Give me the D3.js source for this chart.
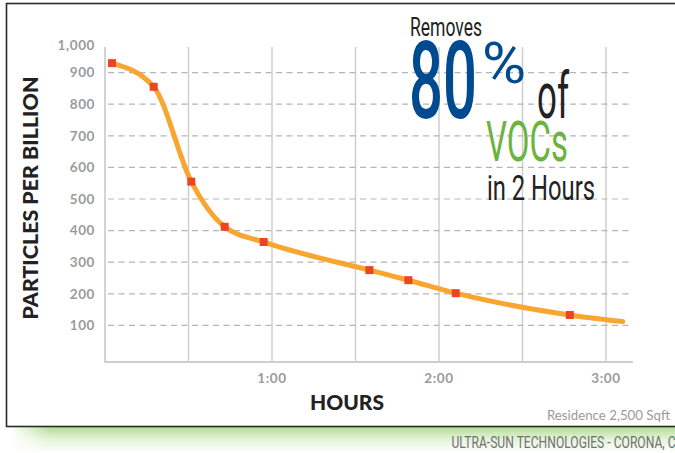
<!DOCTYPE html>
<html>
<head>
<meta charset="utf-8">
<script src="https://cdn.jsdelivr.net/npm/d3@7"></script>
<style>
  body { margin: 0; background: #fff; }
  svg text { font-family: Lato, "Open Sans", sans-serif; }
</style>
</head>
<body>
<div id="chart"></div>
<script>
// VOC removal curve - residence 2,500 sqft

// measured samples (minutes, parts per billion)
var sampleMinutes = [2.5, 17.5, 31, 43, 57, 95, 109, 126, 167];
var samplePpb = [930, 855, 555, 412, 364, 275, 243, 202, 133];
// where the trend line stops (no marker)
var trendEndMinute = 186;
var trendEndPpb = 112;

var yTicks = [100, 200, 300, 400, 500, 600, 700, 800, 900, 1000];
var xGrid = [30, 60, 90, 120, 150, 180];
var xLabels = [60, 120, 180];
var xLabelText = ["1:00", "2:00", "3:00"];

var width = 675, height = 453;

var svg = d3.select("#chart").append("svg")
    .attr("width", width)
    .attr("height", height);

var defs = svg.append("defs");
var grad = defs.append("linearGradient")
    .attr("id", "shadow").attr("x1", 0).attr("y1", 0).attr("x2", 0).attr("y2", 1);
grad.append("stop").attr("offset", "0%").attr("stop-color", "#b3dc93");
grad.append("stop").attr("offset", "45%").attr("stop-color", "#e3f2d8");
grad.append("stop").attr("offset", "100%").attr("stop-color", "#ffffff");
var fadeL = defs.append("linearGradient")
    .attr("id", "fadeL").attr("x1", 0).attr("y1", 0).attr("x2", 1).attr("y2", 0);
fadeL.append("stop").attr("offset", "0%").attr("stop-color", "#fff").attr("stop-opacity", 1);
fadeL.append("stop").attr("offset", "100%").attr("stop-color", "#fff").attr("stop-opacity", 0);

// green shadow under the frame + frame
svg.append("rect")
    .attr("x", 10).attr("y", 427).attr("width", 670).attr("height", 26)
    .attr("fill", "url(#shadow)");
svg.append("rect")
    .attr("x", 10).attr("y", 427).attr("width", 40).attr("height", 26)
    .attr("fill", "url(#fadeL)");
svg.append("rect")
    .attr("x", 6.5).attr("y", 3.5).attr("width", 700).attr("height", 423)
    .attr("fill", "#fff")
    .attr("stroke", "#2a2a2a")
    .attr("stroke-width", 1.6);

/*** SCALES */
var x = d3.scaleLinear().domain([0, 180]).range([105, 606]);
var y = d3.scaleLinear().domain([0, 1000]).range([357, 41]);

var plotTop = 47, plotBottom = 362, plotRight = 633;

// vertical grid
svg.selectAll(".vgrid")
    .data(xGrid)
    .enter().append("line")
    .attr("class", "vgrid")
    .attr("x1", function(d) { return x(d); })
    .attr("x2", function(d) { return x(d); })
    .attr("y1", plotTop)
    .attr("y2", plotBottom)
    .attr("stroke", "#cfcfcf")
    .attr("stroke-width", 1.5);

// horizontal dashed grid (no line at 1,000)
svg.selectAll(".hgrid")
    .data(yTicks.filter(function(d) { return d < 1000; }))
    .enter().append("line")
    .attr("class", "hgrid")
    .attr("x1", 108)
    .attr("x2", plotRight)
    .attr("y1", function(d) { return y(d); })
    .attr("y2", function(d) { return y(d); })
    .attr("stroke", "#b5b5b5")
    .attr("stroke-width", 1.2)
    .attr("stroke-dasharray", "6,4.5");

// axis lines
svg.append("line")
    .attr("x1", x(0)).attr("x2", x(0))
    .attr("y1", plotTop).attr("y2", plotBottom)
    .attr("stroke", "#cfcfcf").attr("stroke-width", 1.8);
svg.append("line")
    .attr("x1", x(0) - 1).attr("x2", plotRight)
    .attr("y1", plotBottom).attr("y2", plotBottom)
    .attr("stroke", "#cfcfcf").attr("stroke-width", 1.8);

// y tick labels
svg.selectAll(".ylab")
    .data(yTicks)
    .enter().append("text")
    .attr("class", "ylab")
    .attr("x", 95)
    .attr("y", function(d) { return Math.max(y(d), 45) + 4.8; })
    .attr("text-anchor", "end")
    .attr("font-size", 13.5)
    .attr("font-weight", 700)
    .attr("letter-spacing", 0.6)
    .attr("fill", "#9b9b9b")
    .text(function(d) { return d3.format(",")(d); });

// x tick labels
svg.selectAll(".xlab")
    .data(xLabels)
    .enter().append("text")
    .attr("class", "xlab")
    .attr("x", function(d) { return x(d); })
    .attr("y", 383)
    .attr("text-anchor", "middle")
    .attr("font-size", 13.5)
    .attr("font-weight", 700)
    .attr("letter-spacing", 0.6)
    .attr("fill", "#9b9b9b")
    .text(function(d, i) { return xLabelText[i]; });

// axis titles
svg.append("text")
    .attr("transform", "translate(38,198) rotate(-90)")
    .attr("text-anchor", "middle")
    .attr("font-size", 21)
    .attr("font-weight", 900)
    .attr("fill", "#222")
    .attr("textLength", 243)
    .attr("lengthAdjust", "spacingAndGlyphs")
    .text("PARTICLES PER BILLION");

svg.append("text")
    .attr("x", 347)
    .attr("y", 409.5)
    .attr("text-anchor", "middle")
    .attr("font-size", 21)
    .attr("font-weight", 900)
    .attr("fill", "#222")
    .attr("textLength", 74)
    .attr("lengthAdjust", "spacingAndGlyphs")
    .text("HOURS");

// trend line
var linePts = sampleMinutes.map(function(m, i) { return [m, samplePpb[i]]; });
linePts.push([trendEndMinute, trendEndPpb]);

var line = d3.line()
    .x(function(d) { return x(d[0]); })
    .y(function(d) { return y(d[1]); })
    .curve(d3.curveMonotoneX);

svg.append("path")
    .datum(linePts)
    .attr("d", line)
    .attr("fill", "none")
    .attr("stroke", "#f9a630")
    .attr("stroke-width", 5)
    .attr("stroke-linecap", "round");

// sample markers
svg.selectAll(".marker")
    .data(sampleMinutes)
    .enter().append("rect")
    .attr("class", "marker")
    .attr("x", function(d) { return x(d) - 4; })
    .attr("y", function(d, i) { return y(samplePpb[i]) - 4; })
    .attr("width", 8)
    .attr("height", 8)
    .attr("fill", "#ee4423");

// callout text (condensed look via textLength squeeze)
function callout(txt, xx, yy, size, color, len, weight) {
    svg.append("text")
        .attr("x", xx).attr("y", yy)
        .attr("font-size", size)
        .attr("font-weight", weight || 400)
        .attr("fill", color)
        .attr("textLength", len)
        .attr("lengthAdjust", "spacingAndGlyphs")
        .style("font-family", "Roboto, sans-serif")
        .text(txt);
}
callout("Removes", 410, 36, 25, "#222", 72);
callout("80", 409, 118, 107, "#004a8f", 68, 500);
callout("%", 482, 83, 57, "#004a8f", 44);
callout("of", 537, 118, 65, "#222", 32);
callout("VOCs", 486, 161, 55, "#6cb33f", 82, 400);
callout("in 2 Hours", 487, 200, 35, "#222", 108);

// footers
svg.append("text")
    .attr("x", 670)
    .attr("y", 420)
    .attr("text-anchor", "end")
    .attr("font-size", 13.5)
    .attr("fill", "#9a9a9a")
    .attr("textLength", 123)
    .attr("lengthAdjust", "spacingAndGlyphs")
    .text("Residence 2,500 Sqft");

svg.append("text")
    .attr("x", 451.5)
    .attr("y", 448.3)
    .attr("font-size", 17)
    .attr("fill", "#707070")
    .attr("textLength", 232)
    .attr("lengthAdjust", "spacingAndGlyphs")
    .style("font-family", "Roboto, sans-serif")
    .text("ULTRA-SUN TECHNOLOGIES - CORONA, CA");
</script>
</body>
</html>
